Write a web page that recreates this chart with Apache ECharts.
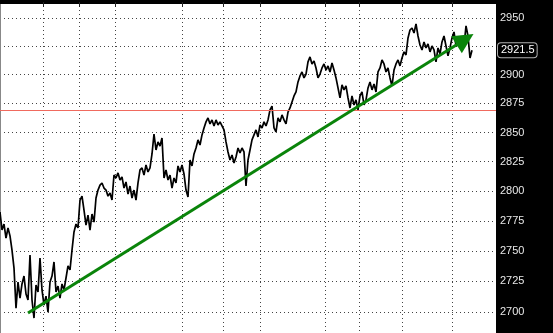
<!DOCTYPE html>
<html><head><meta charset="utf-8">
<script src="https://cdn.jsdelivr.net/npm/echarts@6/dist/echarts.min.js"></script>
<style>html,body{margin:0;padding:0;background:#000}#c{width:553px;height:333px}</style>
</head><body><div id="c"></div>
<script>
// price series, one value per bar (index)
const prices = [
2782.5,2767.5,2772.5,2760.8,2769.2,2762.6,2750.8,2736.0,2703.2,2724.5,
2711.4,2722.9,2729.4,2714.7,2709.8,2746.7,2709.8,2695.1,2722.1,2716.3,
2744.3,2718.0,2705.7,2713.0,2700.0,2724.5,2729.4,2741.0,2716.3,2721.2,
2711.4,2722.9,2718.0,2727.8,2737.7,2734.4,2750.8,2765.9,2772.5,2769.2,
2792.6,2795.9,2784.2,2771.6,2780.0,2767.5,2780.9,2774.1,2794.3,2801.0,
2805.2,2807.0,2802.7,2801.0,2795.9,2798.5,2792.6,2813.7,2811.2,2815.5,
2809.5,2812.1,2802.7,2807.8,2797.6,2804.4,2794.3,2801.0,2792.6,2807.0,
2818.0,2819.7,2813.7,2822.2,2816.3,2819.7,2831.6,2848.7,2835.0,2841.9,
2838.4,2845.3,2811.2,2818.0,2809.5,2813.7,2802.7,2811.2,2807.0,2821.4,
2816.3,2822.2,2814.6,2801.0,2795.1,2826.5,2821.4,2831.6,2836.7,2843.6,
2839.3,2847.9,2853.9,2859.1,2862.5,2857.3,2860.8,2855.6,2860.8,2856.5,
2859.1,2860.8,2852.2,2841.9,2833.3,2826.5,2830.7,2823.9,2829.0,2836.7,
2832.4,2836.7,2833.3,2804.4,2826.5,2835.0,2843.6,2847.9,2852.2,2846.2,
2856.5,2853.9,2859.1,2855.6,2860.8,2869.4,2872.8,2853.9,2850.5,2862.5,
2859.1,2865.1,2860.8,2857.3,2867.6,2871.1,2876.3,2881.5,2885.0,2893.7,
2898.9,2902.4,2897.2,2900.6,2911.2,2915.6,2909.4,2912.1,2905.9,2897.2,
2900.6,2905.9,2909.4,2904.1,2907.7,2902.4,2910.3,2904.1,2897.2,2898.9,
2879.8,2891.1,2886.8,2890.2,2879.8,2871.1,2881.5,2873.7,2878.1,2869.4,
2881.5,2885.0,2873.7,2878.1,2888.5,2893.7,2886.8,2891.9,2885.0,2902.4,
2905.9,2912.9,2909.4,2902.4,2905.9,2897.2,2890.2,2904.1,2909.4,2912.9,
2907.7,2914.7,2920.0,2917.3,2932.3,2939.3,2941.1,2936.7,2944.7,2934.0,
2926.1,2921.7,2928.8,2923.5,2927.0,2920.0,2925.2,2921.7,2911.2,2923.5,
2918.2,2928.8,2934.0,2925.2,2916.5,2923.5,2932.3,2937.6,2925.2,2923.5,
2927.0,2921.7,2925.2,2942.9,2934.0,2914.7,2921.5
];
const barCount = 249;            // slots on the time axis
const yTicks = [2700,2725,2750,2775,2800,2825,2850,2875,2900,2925,2950];
const timeTicks = [21.5,39.5,57.5,91,111.5,130,162.5,179.5,201,226];
const trendStart = [14, 2699.2];
const trendEnd = [232.5, 2931.0];
const redLevel = 2869.5;
const yMin = 2683, yMax = 2964.2;

const lastPrice = prices[prices.length - 1];
// the last-price tag covers the nearest tick label
const yLabelTicks = yTicks.filter(v => Math.abs(v - lastPrice) > 10);
const chart = echarts.init(document.getElementById('c'), null, {renderer: 'canvas'});
chart.setOption({
  animation: false,
  backgroundColor: '#000',
  grid: {left: 0, right: 57, top: 2, bottom: 0, show: true, backgroundColor: '#fff', borderWidth: 0},
  xAxis: {
    type: 'value', min: 0, max: barCount - 1, position: 'top',
    axisLine: {show: true, lineStyle: {color: '#000', width: 3}},
    axisTick: {show: true, inside: true, length: 5, customValues: timeTicks, lineStyle: {color: '#222', width: 1}},
    axisLabel: {show: false, customValues: timeTicks},
    splitLine: {show: true, lineStyle: {color: '#444', width: 1, type: [1, 3]}}
  },
  yAxis: {
    type: 'log', logBase: 10, min: yMin, max: yMax, position: 'right',
    axisLine: {show: true, lineStyle: {color: '#888', width: 1}},
    axisTick: {show: true, inside: true, length: 4, customValues: yTicks, lineStyle: {color: '#444'}},
    axisLabel: {show: true, customValues: yLabelTicks, color: '#e8e8e8', fontFamily: 'Liberation Sans', fontSize: 11, margin: 4,
      formatter: v => String(Math.round(v))},
    splitLine: {show: true, lineStyle: {color: '#444', width: 1, type: [1, 3]}}
  },
  series: [
    {
      type: 'line', data: prices.map((v, i) => [i, v]), showSymbol: false, symbol: 'none',
      lineStyle: {color: '#000', width: 1.7}, z: 3,
      markLine: {
        silent: true, symbol: ['none', 'none'], animation: false,
        data: [
          {yAxis: redLevel, lineStyle: {color: '#f06a5e', width: 1, type: 'solid'}, label: {show: false}}
        ]
      }
    },
    {
      type: 'line', data: [], z: 4,
      markLine: {
        silent: true, symbol: ['none', 'triangle'], symbolSize: 20, animation: false,
        lineStyle: {color: '#0a840a', width: 3, type: 'solid'},
        itemStyle: {color: '#0a840a'},
        label: {show: false},
        data: [[{coord: trendStart, symbol: 'none'}, {coord: trendEnd, symbol: 'triangle', symbolSize: 20}]]
      }
    },
    {
      type: 'line', data: [], z: 10, clip: false,
      markLine: {
        silent: true, symbol: ['none', 'none'], animation: false, z: 10,
        lineStyle: {color: 'rgba(0,0,0,0)', width: 0},
        data: [{yAxis: lastPrice, label: {show: true, position: 'end', distance: 2,
          formatter: () => lastPrice.toFixed(1), color: '#fff', backgroundColor: '#000', borderColor: '#b0b0b0',
          borderWidth: 1, borderRadius: 3, padding: [2, 2, 1, 3], fontFamily: 'Liberation Sans', fontSize: 11}}]
      }
    }
  ]
});
</script></body></html>
